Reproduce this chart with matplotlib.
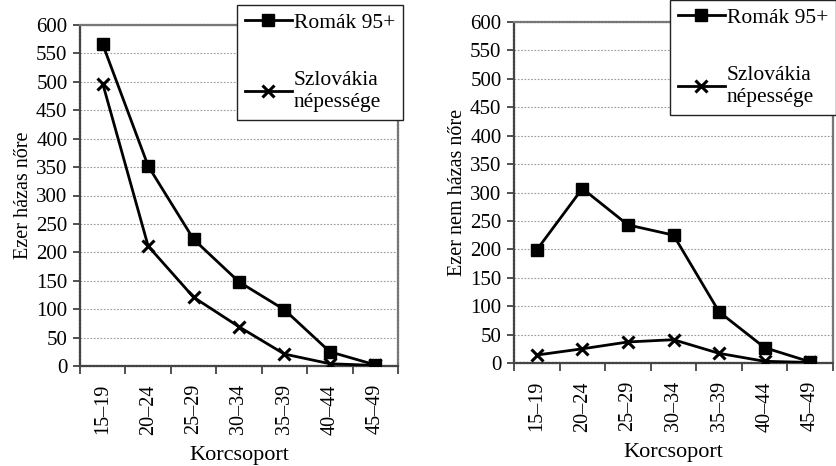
import matplotlib
matplotlib.use("Agg")
import matplotlib.pyplot as plt
import numpy as np

categories = ["15–19", "20–24", "25–29", "30–34", "35–39", "40–44", "45–49"]
married_roma = [566, 352, 223, 148, 99, 25, 2]
married_slovakia = [497, 211, 121, 69, 21, 4, 1]
unmarried_roma = [199, 307, 243, 225, 90, 27, 2]
unmarried_slovakia = [14, 25, 37, 41, 17, 3, 1]
series_labels = ["Romák 95+", "Szlovákia\nnépessége"]
ylabels = ["Ezer házas nőre", "Ezer nem házas nőre"]
xlabel = "Korcsoport"
yticks = list(range(0, 601, 50))

plt.rcParams['font.family'] = ['Liberation Serif', 'DejaVu Serif']

fig = plt.figure(figsize=(8.37, 4.66), dpi=100)
W, H = 837, 466
axes_px = [(80, 366, 398, 25), (514, 363, 833, 22)]
legend_px = [(237, 5, 420, 118), (670, 0, 845, 116)]

data = [(married_roma, married_slovakia), (unmarried_roma, unmarried_slovakia)]

for i, (x0, y0, x1, y1) in enumerate(axes_px):
    ax = fig.add_axes([x0 / W, (H - y0) / H, (x1 - x0) / W, (y0 - y1) / H])
    x = np.arange(len(categories))
    r, s = data[i]
    l1, = ax.plot(x, r, color='black', lw=2, marker='s', ms=8, mfc='black', mec='black',
                  label=series_labels[0], zorder=4)
    l2, = ax.plot(x, s, color='black', lw=2, marker='x', ms=8, mew=2.2,
                  label=series_labels[1], zorder=4)
    ax.set_xlim(-0.5, len(categories) - 0.5)
    ax.set_ylim(0, 600)
    ax.set_yticks(yticks)
    ax.set_yticklabels([str(v) for v in yticks], fontsize=15)
    ax.set_xticks(x)
    ax.set_xticklabels(categories, rotation=90, fontsize=14.5)
    ax.tick_params(axis='x', length=0, pad=13)
    ax.set_xticks(np.arange(-0.5, len(categories), 1.0), minor=True)
    ax.tick_params(axis='x', which='minor', length=6, width=1.2, direction='out', color='#333333')
    ax.tick_params(axis='y', length=5, width=1.2, direction='out', color='#333333', pad=4)
    ax.grid(axis='y', color='#999999', linestyle=(0, (1.5, 1.5)), lw=0.8, zorder=0)
    for sp in ax.spines.values():
        sp.set_color('#777777')
        sp.set_linewidth(1.6)
        sp.set_linestyle((0, (1, 0.6)))
    ax.spines['left'].set_color('#444444')
    ax.spines['bottom'].set_color('#444444')
    ax.set_xlabel(xlabel, fontsize=16, labelpad=8)
    ax.set_ylabel(ylabels[i], fontsize=14.5, labelpad=2)

    lx0, ly0, lx1, ly1 = legend_px[i]
    leg = fig.legend(handles=[l1, l2], loc='upper left',
                     bbox_to_anchor=(lx0 / W, 1 - ly0 / H), fontsize=15.5,
                     frameon=True, fancybox=False, edgecolor='#222222',
                     framealpha=1, labelspacing=1.8, handlelength=2.2,
                     handletextpad=0.1, borderpad=0.35, borderaxespad=0)
    leg.get_frame().set_linewidth(1.0)

fig.savefig("out.png", dpi=100)
